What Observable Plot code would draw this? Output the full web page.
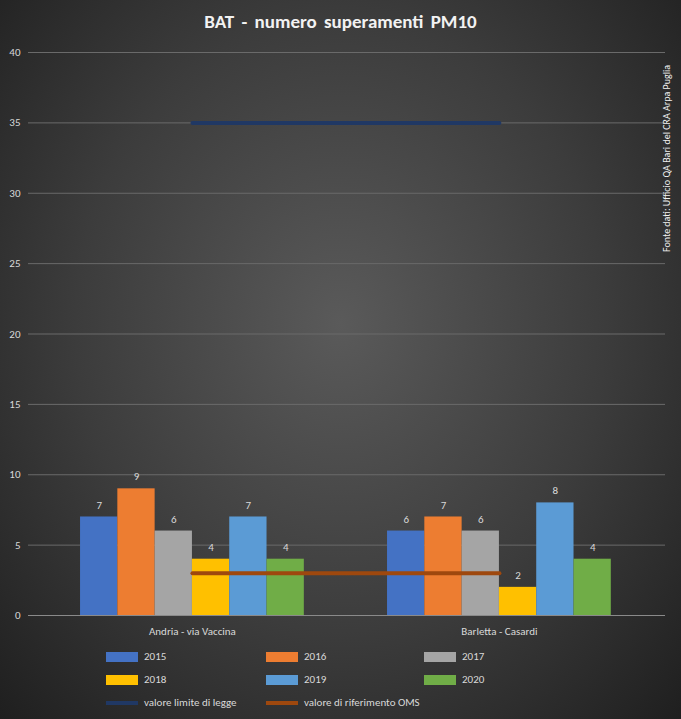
<!DOCTYPE html>
<html><head><meta charset="utf-8">
<script src="https://cdn.jsdelivr.net/npm/d3@7"></script>
<script src="https://cdn.jsdelivr.net/npm/@observablehq/plot@0.6"></script>
<style>
body{margin:0;}
#wrap{position:relative;width:681px;height:719px;background:radial-gradient(ellipse at 50% 45%,#5a5a5a 0%,#3c3c3c 55%,#1f1f1f 100%);font-family:Calibri,"Liberation Sans",Arial,sans-serif;color:#d9d9d9;overflow:hidden}
#title{height:44px;line-height:44px;text-align:center;font-size:19px;font-weight:bold;color:#f2f2f2;word-spacing:3px}
#src{position:absolute;left:660px;top:252px;transform-origin:0 0;transform:rotate(-90deg);font-size:10px;color:#f2f2f2;white-space:nowrap}
#legend{position:absolute;top:650px;left:0;width:681px;font-size:11px}
.li{position:absolute;display:flex;align-items:center;gap:6px}
.sw{width:32px;height:6px}
</style></head><body>
<div id="wrap"><div id="title">BAT - numero superamenti PM10</div><div id="chart"></div>
<div id="src">Fonte dati: Ufficio QA Bari del CRA Arpa Puglia</div>
<div id="legend"></div></div>
<script>
const stations = ["Andria - via Vaccina", "Barletta - Casardi"];
const years = ["2015","2016","2017","2018","2019","2020"];
const colors = ["#4472C4","#ED7D31","#A5A5A5","#FFC000","#5B9BD5","#70AD47"];
const andria = [7,9,6,4,7,4];
const barletta = [6,7,6,2,8,4];
const limitValue = 35;
const omsValue = 3;
const bw = 0.1215;
const rows = [];
[andria, barletta].forEach((vals, si) => vals.forEach((v, yi) => rows.push({si, yi, year: years[yi], v})));
const pos = d => d.si + (d.yi - 2.5) * bw;
const lim = stations.map((s, i) => ({x: i, y: limitValue}));
const oms = stations.map((s, i) => ({x: i, y: omsValue}));
const chart = Plot.plot({
  width: 681, height: 601, marginTop: 8, marginBottom: 30, marginLeft: 28, marginRight: 16,
  style: {background: "transparent", color: "#d9d9d9", fontSize: "11px", fontFamily: "Calibri, 'Liberation Sans', Arial, sans-serif"},
  x: {domain: [-0.534, 1.541], axis: null},
  y: {domain: [0, 40], ticks: d3.range(0, 41, 5), label: null, grid: false},
  marks: [
    Plot.gridY(d3.range(5, 41, 5), {stroke: "#6a6a6a", strokeOpacity: 1}),
    Plot.ruleY([0], {stroke: "#8a8a8a"}),
    Plot.axisY({ticks: d3.range(0, 41, 5), tickSize: 0, tickPadding: 8, label: null}),
    Plot.rectY(rows, {x1: d => pos(d) - bw/2, x2: d => pos(d) + bw/2, y: "v", fill: d => colors[d.yi]}),
    Plot.text(rows, {x: pos, y: "v", text: d => String(d.v), dy: -12, fill: "#d9d9d9", fontSize: 11}),
    Plot.lineY(lim, {x: "x", y: "y", stroke: "#203864", strokeWidth: 4}),
    Plot.lineY(oms, {x: "x", y: "y", stroke: "#9E480E", strokeWidth: 4}),
    Plot.text(stations, {x: (d, i) => i, y: 0, text: d => d, dy: 16, fill: "#d9d9d9", fontSize: 11})
  ]
});
document.getElementById("chart").appendChild(chart);
const leg = document.getElementById("legend");
const items = years.map((y, i) => ({label: y, color: colors[i], h: 10}))
  .concat([{label: "valore limite di legge", color: "#203864", h: 4}, {label: "valore di riferimento OMS", color: "#9E480E", h: 4}]);
const cols = [106, 266, 424];
items.forEach((it, i) => {
  const d = document.createElement("div");
  d.className = "li";
  d.style.left = cols[i % 3] + "px";
  d.style.top = (Math.floor(i / 3) * 23) + "px";
  d.innerHTML = `<span class="sw" style="background:${it.color};height:${it.h}px"></span><span>${it.label}</span>`;
  leg.appendChild(d);
});
</script></body></html>
